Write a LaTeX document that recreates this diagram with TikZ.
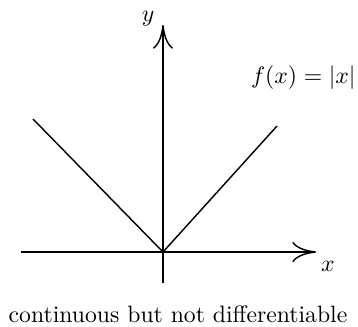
\documentclass[tikz,border=0pt]{standalone}
\usetikzlibrary{arrows.meta}
\begin{document}
\begin{tikzpicture}[x=0.4219pt,y=-0.4219pt,
  axis/.style={line width=0.6pt,-{To[length=10pt,width=8.5pt]}},
  graph/.style={line width=0.6pt},
  lbl/.style={inner sep=0pt,anchor=base}]
\useasboundingbox (0,0) rectangle (358,326);
\coordinate (O) at (163,252);
\coordinate (xs) at (21,252);
\coordinate (xe) at (316,252);
\coordinate (ys) at (163,283);
\coordinate (ye) at (163,25);
\coordinate (L) at (33,119);
\coordinate (R) at (277,126);
\draw[axis] (xs) -- (xe);
\draw[axis] (ys) -- (ye);
\draw[graph] (L) -- (O) -- (R);
\node[lbl] (ylab) at (148,21) {$y$};
\node[lbl] (xlab) at (328,271) {$x$};
\node[lbl,anchor=base east] (flab) at (356,83) {$f(x)=|x|$};
\node[lbl] (cap) at (178,322) {continuous but not differentiable};
\end{tikzpicture}
\end{document}
